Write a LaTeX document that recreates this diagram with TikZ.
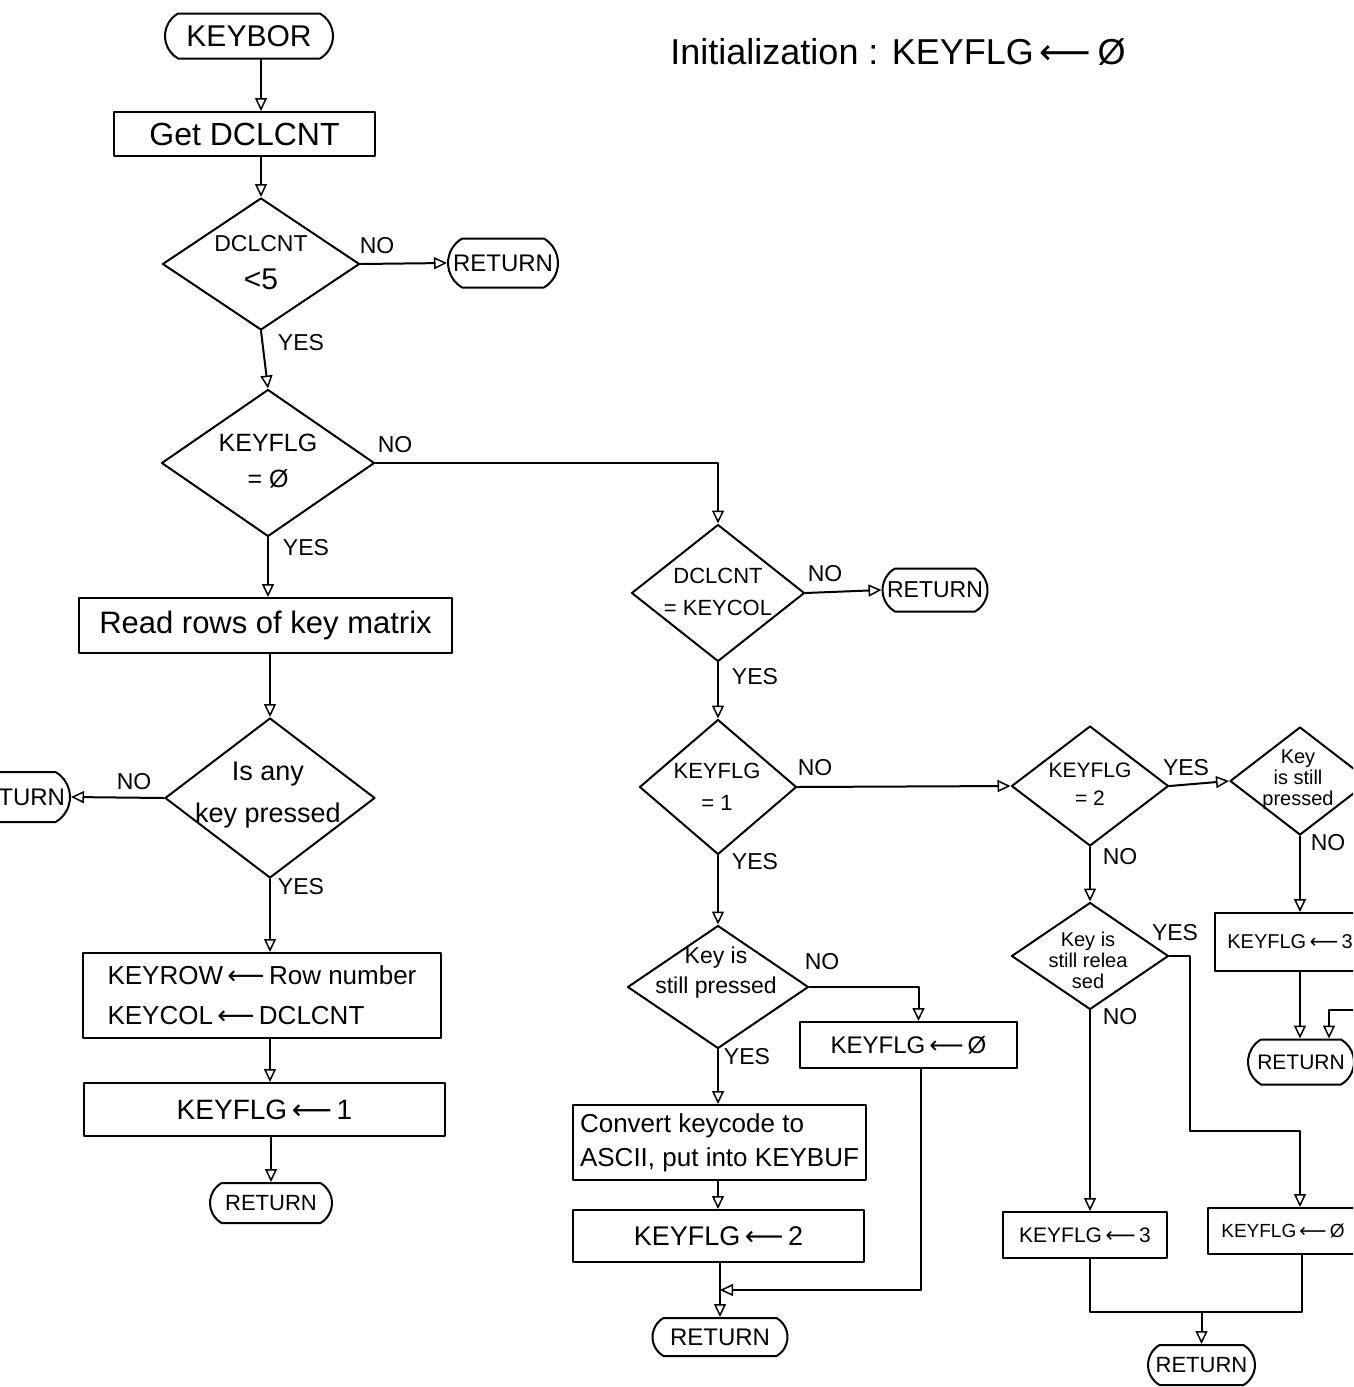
\documentclass[tikz,border=0pt]{standalone}
\usepackage{fontspec}
\setmainfont{Liberation Sans}
\newfontfamily\arrowfont{DejaVu Sans}
\usetikzlibrary{arrows.meta,shapes.geometric,shapes.misc,calc}
% font size helper: size and baseline skip in pt
\newcommand{\fsz}[2]{\fontsize{#1pt}{#2pt}\selectfont}
% assignment arrow used in the flag updates
\newcommand{\setto}{\,{\arrowfont ⟵}\,}
\begin{document}
\begin{tikzpicture}[x=1pt,y=-1pt,
  ln/.style={line width=2pt,line cap=round,line join=round},
  arr/.style={ln,-{Triangle[open,length=13pt,width=12pt,line width=1.5pt]}},
  box/.style={draw,ln,rectangle,inner sep=0pt},
  term/.style={draw,ln,rounded rectangle,rounded rectangle arc length=120,inner sep=0pt},
  dia/.style={draw,ln,diamond,inner sep=0pt},
  lbl/.style={inner sep=0pt,align=center},
  yn/.style={inner sep=0pt,font=\fsz{23}{26}}]

\path[use as bounding box] (0,0) rectangle (1353,1387);
\fill[white] (0,0) rectangle (1353,1387);
\clip (0,0) rectangle (1353,1387);

% heading
\node[lbl,font=\fsz{36}{40}] (init) at (898,52) {Initialization : KEYFLG\setto Ø};

% ---------- left column ----------
\node[term,minimum width=168pt,minimum height=45pt,font=\fsz{30}{34}] (keybor) at (249,36) {KEYBOR};
\node[box,minimum width=261pt,minimum height=44pt,font=\fsz{32}{36}] (getd) at (244.5,134) {Get DCLCNT};
\node[dia,minimum width=197pt,minimum height=132pt] (d1) at (261,264) {};
\node[lbl,font=\fsz{23}{38}] (d1t) at (261,263) {DCLCNT\\{\fsz{30}{30}<5}};
\node[term,minimum width=110pt,minimum height=49pt,font=\fsz{24}{28}] (r1) at (503,263) {RETURN};

\node[dia,minimum width=213pt,minimum height=147pt] (d2) at (268,463) {};
\node[lbl,font=\fsz{25}{36}] (d2t) at (268,461) {KEYFLG\\= Ø};

\node[box,minimum width=373pt,minimum height=55pt,font=\fsz{31}{36}] (rows) at (265.5,625.5) {Read rows of key matrix};

\node[dia,minimum width=210pt,minimum height=160pt] (d4) at (270,798) {};
\node[lbl,font=\fsz{27}{42}] (d4t) at (268,795) {Is any\\key pressed};
\node[term,minimum width=110pt,minimum height=50pt,font=\fsz{24}{28}] (r0) at (15,797) {RETURN};

\node[box,minimum width=358pt,minimum height=85pt,font=\fsz{26}{40},align=left] (keyrow) at (262,995.5) {KEYROW\setto Row number\\KEYCOL\setto DCLCNT};
\node[box,minimum width=361pt,minimum height=53pt,font=\fsz{28}{32}] (kf1) at (264.5,1109.5) {KEYFLG\setto 1};
\node[term,minimum width=122pt,minimum height=40pt,font=\fsz{22}{26}] (r1b) at (271,1203) {RETURN};

% ---------- middle column ----------
\node[dia,minimum width=173pt,minimum height=137pt] (d3) at (718,593) {};
\node[lbl,font=\fsz{22}{32}] (d3t) at (718,592) {DCLCNT\\= KEYCOL};
\node[term,minimum width=105pt,minimum height=43pt,font=\fsz{23}{26}] (r2) at (935,590) {RETURN};

\node[dia,minimum width=157pt,minimum height=135pt] (d5) at (718,787) {};
\node[lbl,font=\fsz{22}{32}] (d5t) at (717,787) {KEYFLG\\= 1};

\node[dia,minimum width=181pt,minimum height=123pt] (d7) at (718,987) {};
\node[lbl,font=\fsz{23}{30}] (d7t) at (716,973) {Key is\\still pressed};
\node[box,minimum width=217pt,minimum height=46pt,font=\fsz{24}{28}] (kf0) at (908.5,1045) {KEYFLG\setto Ø};

\node[box,minimum width=293pt,minimum height=75pt,font=\fsz{26}{34},align=left] (conv) at (719.5,1142.5) {Convert keycode to\\ASCII, put into KEYBUF};
\node[box,minimum width=291pt,minimum height=52pt,font=\fsz{27}{30}] (kf2) at (718.5,1236) {KEYFLG\setto 2};
\node[term,minimum width=135pt,minimum height=38pt,font=\fsz{24}{28}] (r3) at (720,1337) {RETURN};

% ---------- right column ----------
\node[dia,minimum width=157pt,minimum height=120pt] (d6) at (1090,786) {};
\node[lbl,font=\fsz{21}{28}] (d6t) at (1090,784) {KEYFLG\\= 2};

\node[dia,minimum width=140pt,minimum height=108pt] (d8) at (1300,781) {};
\node[lbl,font=\fsz{20}{21}] (d8t) at (1298,780) {Key\\is still\\pressed};
\node[box,minimum width=150pt,minimum height=58pt,font=\fsz{20}{24}] (kf3a) at (1290,942) {KEYFLG\setto 3};
\node[term,minimum width=106pt,minimum height=45pt,font=\fsz{21}{24}] (r4) at (1301,1062) {RETURN};
\coordinate (offr) at (1390,1010);

\node[dia,minimum width=157pt,minimum height=107pt] (d9) at (1090,956) {};
\node[lbl,font=\fsz{20}{21}] (d9t) at (1088,960) {Key is\\still relea\\sed};
\node[box,minimum width=164pt,minimum height=46pt,font=\fsz{21}{24}] (kf3b) at (1085,1235) {KEYFLG\setto 3};
\node[box,minimum width=150pt,minimum height=46pt,font=\fsz{19}{24}] (kf0b) at (1283,1231) {KEYFLG\setto Ø};
\node[term,minimum width=107pt,minimum height=40pt,font=\fsz{22}{26}] (r5) at (1201.5,1365) {RETURN};
\coordinate (mrg) at (r5.north |- 0,1312);

% ---------- connectors ----------
\draw[arr] (keybor.south -| d1.north) -- (getd.north -| d1.north);
\draw[arr] (getd.south -| d1.north) -- (d1.north);
\draw[arr] (d1.east) -- (r1.west);
\draw[arr] (d1.south) -- (d2.north);
\draw[arr] (d2.south) -- (d2.south |- rows.north);
\draw[arr] (d2.east) -| (d3.north);
\draw[arr] (rows.south -| d4.north) -- (d4.north);
\draw[arr] (d4.west) -- (r0.east);
\draw[arr] (d4.south) -- (d4.south |- keyrow.north);
\draw[arr] (keyrow.south -| d4.south) -- (kf1.north -| d4.south);
\draw[arr] (kf1.south -| r1b.north) -- (r1b.north);

\draw[arr] (d3.east) -- (r2.west);
\draw[arr] (d3.south) -- (d5.north);
\draw[arr] (d5.east) -- (d6.west);
\draw[arr] (d5.south) -- (d7.north);
\draw[arr] (d7.east) -- ([xshift=10pt]kf0.north |- d7.east) -- ([xshift=10pt]kf0.north);
\draw[arr] (d7.south) -- (d7.south |- conv.north);
\draw[arr] (conv.south -| d7.south) -- (kf2.north -| d7.south);
\draw[arr] (kf2.south -| r3.north) -- (r3.north);
\draw[arr] ([xshift=12pt]kf0.south) |- ($(kf2.south -| r3.north)!0.5!(r3.north)$);

\draw[arr] (d6.east) -- (d8.west);
\draw[arr] (d8.south) -- (d8.south |- kf3a.north);
\draw[arr] (kf3a.south -| d8.south) -- (r4.north -| d8.south);
\draw[arr] (offr) -| ([xshift=28pt]r4.north);
\draw[arr] (d6.south) -- (d6.south |- d9.north);
\draw[arr] (d9.south) -- (d9.south |- kf3b.north);
\draw[arr] (d9.east) -- ++(20,0) |- ([yshift=76pt,xshift=17pt]kf0b.north) -- ([xshift=17pt]kf0b.north);
\draw[ln] (kf3b.south -| d9.south) |- (mrg) -| ([xshift=19pt]kf0b.south);
\draw[arr] (mrg) -- (r5.north);

% ---------- branch labels ----------
\node[yn] (l1n) at (377,246) {NO};
\node[yn] (l1y) at (301,343) {YES};
\node[yn] (l2n) at (395,445) {NO};
\node[yn] (l2y) at (306,548) {YES};
\node[yn] (l4n) at (134,782) {NO};
\node[yn] (l4y) at (301,887) {YES};
\node[yn] (l3n) at (825,574) {NO};
\node[yn] (l3y) at (755,677) {YES};
\node[yn] (l5n) at (815,768) {NO};
\node[yn] (l5y) at (755,862) {YES};
\node[yn] (l7n) at (822,962) {NO};
\node[yn] (l7y) at (747,1057) {YES};
\node[yn] (l6y) at (1186,768) {YES};
\node[yn] (l6n) at (1120,857) {NO};
\node[yn] (l8n) at (1328,843) {NO};
\node[yn] (l9y) at (1175,933) {YES};
\node[yn] (l9n) at (1120,1017) {NO};
\end{tikzpicture}
\end{document}
